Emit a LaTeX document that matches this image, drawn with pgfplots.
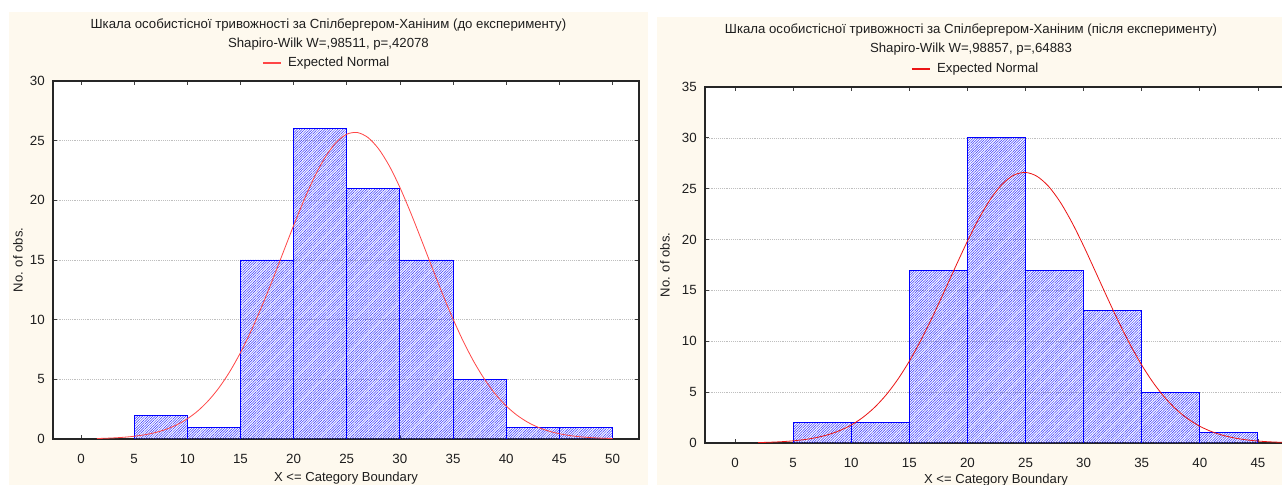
\documentclass[border=0pt]{standalone}
\usepackage{fontspec}
\setmainfont{Liberation Sans}
\usepackage{pgfplots}
\pgfplotsset{compat=1.18}
\usetikzlibrary{patterns.meta}

\definecolor{panel}{RGB}{254,249,238}
\definecolor{hatch}{RGB}{50,50,255}
\definecolor{curveL}{RGB}{255,70,70}
\definecolor{curveR}{RGB}{235,20,20}
\definecolor{txt}{RGB}{30,30,30}

\pgfplotsset{
  histo/.style={
    scale only axis,
    axis background/.style={fill=white},
    /pgf/number format/assume math mode=true,
    ymin=0,
    ymajorgrids,
    major grid style={densely dotted, gray!50, line width=0.5pt},
    axis line style={black!85, line width=0.8pt},
    tick align=inside,
    major tick length=3pt,
    tick style={black!75, line width=0.6pt},
    xtick pos=both, ytick pos=both,
    tick label style={font=\fontsize{10}{11}\selectfont, text=txt},
    xticklabel style={anchor=center, yshift=-15pt},
    yticklabel style={anchor=east, inner sep=0pt, xshift=-6pt},
    label style={font=\fontsize{9.8}{11}\selectfont, text=txt},
    ylabel={No. of obs.},
    xlabel={X <= Category Boundary},
    title style={font=\fontsize{9.9}{14.2}\selectfont, text=txt, align=center, anchor=center},
    legend style={draw=none, fill=none, anchor=center,
      font=\fontsize{9.9}{11}\selectfont, text=txt,
      /tikz/every odd column/.append style={column sep=3pt}},
  },
  bars/.style={ybar interval, draw=blue, line width=0.7pt,
    pattern={Lines[angle=45,distance=1.35pt,line width=0.38pt]},
    pattern color=hatch, forget plot},
}

\begin{document}
\begin{tikzpicture}
\clip (0pt,0pt) rectangle (961.5pt,363.75pt);
\fill[white] (0pt,0pt) rectangle (961.5pt,363.75pt);
\fill[panel] (6.75pt,0pt) rectangle (486pt,354.75pt);
\fill[panel] (492.75pt,0pt) rectangle (961.5pt,351pt);

% before the experiment
\begin{axis}[histo,
  at={(39.75pt,34.5pt)}, anchor=south west,
  width=439.5pt, height=268.5pt,
  xmin=-2.63, xmax=52.49, ymax=30,
  xtick={0,5,...,50}, ytick={0,5,...,30},
  title={Шкала особистісної тривожності за Спілбергером-Ханіним (до експерименту)\\Shapiro-Wilk W=,98511, p=,42078},
  title style={at={(axis description cs:0.47,1)}, yshift=29pt},
  legend style={at={(axis description cs:0.468,1)}, yshift=13.5pt},
  legend image code/.code={\draw[curveL, line width=0.8pt] (0pt,0pt) -- (13.5pt,0pt);},
  xlabel style={at={(axis description cs:0.5,0)}, anchor=center, yshift=-29pt},
  ylabel style={at={(axis description cs:0,0.5)}, anchor=center, yshift=26.25pt},
]
\addplot[bars] coordinates {
  (5,2) (10,1) (15,15) (20,26) (25,21) (30,15) (35,5) (40,1) (45,1) (50,1)
};
\addplot[curveL, line width=0.6pt, smooth] coordinates {
  (1.5,0.041) (2,0.053) (3,0.088) (4,0.143) (5,0.228) (6,0.355) (7,0.542)
  (8,0.810) (9,1.183) (10,1.689) (11,2.360) (12,3.228) (13,4.316) (14,5.649)
  (15,7.232) (16,9.055) (17,11.09) (18,13.29) (19,15.59) (20,17.88) (21,20.06)
  (22,22.02) (23,23.65) (24,24.85) (25,25.54) (26,25.68) (27,25.26) (28,24.31)
  (29,22.89) (30,21.08) (31,18.99) (32,16.74) (33,14.44) (34,12.18) (35,10.05)
  (36,8.113) (37,6.409) (38,4.952) (39,3.742) (40,2.768) (41,2.003) (42,1.417)
  (43,0.981) (44,0.665) (45,0.440) (46,0.286) (47,0.181) (48,0.112) (49,0.068)
  (50,0.041)
};
\addlegendentry{Expected Normal}
\end{axis}

% after the experiment
\begin{axis}[histo,
  at={(528.75pt,31.5pt)}, anchor=south west,
  width=436.5pt, height=267pt,
  xmin=-2.58, xmax=47.5, ymax=35,
  xtick={0,5,...,45}, ytick={0,5,...,35},
  title={Шкала особистісної тривожності за Спілбергером-Ханіним (після експерименту)\\Shapiro-Wilk W=,98857, p=,64883},
  title style={at={(axis description cs:0.457,1)}, yshift=29.5pt},
  legend style={at={(axis description cs:0.466,1)}, yshift=13.5pt},
  legend image code/.code={\draw[curveR, line width=0.8pt] (0pt,0pt) -- (13.5pt,0pt);},
  xlabel style={at={(axis description cs:0.5,0)}, anchor=center, yshift=-28pt},
  ylabel style={at={(axis description cs:0,0.5)}, anchor=center, yshift=30pt},
]
\addplot[bars] coordinates {
  (5,2) (10,2) (15,17) (20,30) (25,17) (30,13) (35,5) (40,1) (45,1)
};
\addplot[curveR, line width=0.6pt, smooth] coordinates {
  (2,0.044) (3,0.076) (4,0.129) (5,0.212) (6,0.340) (7,0.533) (8,0.815)
  (9,1.215) (10,1.769) (11,2.514) (12,3.490) (13,4.722) (14,6.240) (15,8.041)
  (16,10.12) (17,12.42) (18,14.88) (19,17.39) (20,19.84) (21,22.09) (22,24.00)
  (23,25.45) (24,26.34) (25,26.60) (26,26.21) (27,25.21) (28,23.66) (29,21.67)
  (30,19.37) (31,16.89) (32,14.38) (33,11.94) (34,9.68) (35,7.66) (36,5.91)
  (37,4.45) (38,3.27) (39,2.349) (40,1.645) (41,1.124) (42,0.749) (43,0.488)
  (44,0.310) (45,0.192) (46,0.116) (47,0.068) (47.5,0.052)
};
\addlegendentry{Expected Normal}
\end{axis}
\end{tikzpicture}
\end{document}
